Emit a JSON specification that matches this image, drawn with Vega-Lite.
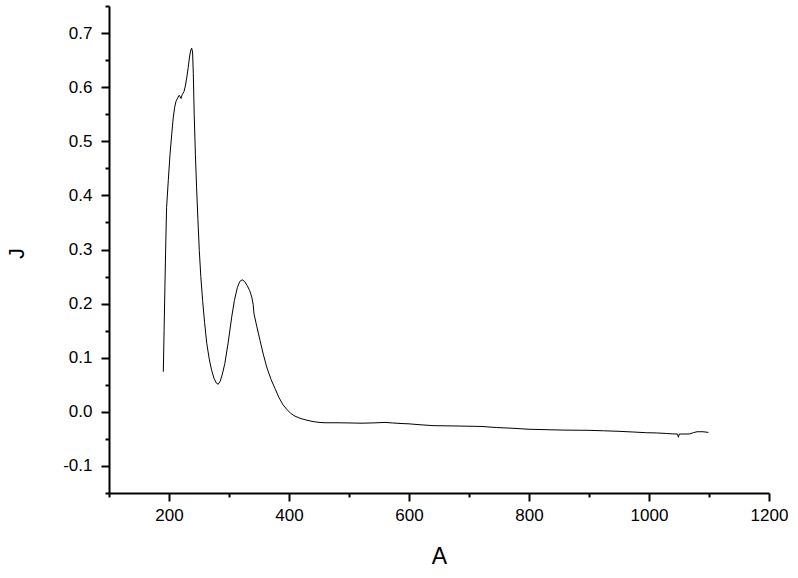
{
  "$schema": "https://vega.github.io/schema/vega-lite/v6.json",
  "autosize": "none",
  "width": 660,
  "height": 487,
  "padding": {"left": 109, "top": 6, "right": 29, "bottom": 85},
  "background": "white",
  "config": {
    "view": {"stroke": null},
    "font": "Liberation Sans"
  },
  "data": {
    "values": [
      {"A": 190.5, "J": 0.074},
      {"A": 191.8, "J": 0.15},
      {"A": 193.3, "J": 0.236},
      {"A": 194.6, "J": 0.31},
      {"A": 196, "J": 0.378},
      {"A": 198.8, "J": 0.427},
      {"A": 201.7, "J": 0.476},
      {"A": 204.5, "J": 0.512},
      {"A": 207, "J": 0.543},
      {"A": 209.5, "J": 0.563},
      {"A": 211.7, "J": 0.574},
      {"A": 214.5, "J": 0.58},
      {"A": 217, "J": 0.585},
      {"A": 218.7, "J": 0.582},
      {"A": 220, "J": 0.579},
      {"A": 222, "J": 0.586},
      {"A": 225, "J": 0.592},
      {"A": 227.2, "J": 0.602},
      {"A": 229.5, "J": 0.617},
      {"A": 232, "J": 0.636},
      {"A": 234, "J": 0.654},
      {"A": 236, "J": 0.667},
      {"A": 237.8, "J": 0.672},
      {"A": 239.3, "J": 0.665},
      {"A": 240.5, "J": 0.625},
      {"A": 242, "J": 0.55},
      {"A": 244, "J": 0.475},
      {"A": 246, "J": 0.414},
      {"A": 248.2, "J": 0.355},
      {"A": 250.5, "J": 0.298},
      {"A": 253, "J": 0.25},
      {"A": 256, "J": 0.206},
      {"A": 259.3, "J": 0.165},
      {"A": 263, "J": 0.126},
      {"A": 267, "J": 0.098},
      {"A": 271, "J": 0.077},
      {"A": 275, "J": 0.062},
      {"A": 279, "J": 0.053},
      {"A": 282, "J": 0.051},
      {"A": 285.5, "J": 0.057},
      {"A": 289, "J": 0.07},
      {"A": 293, "J": 0.089},
      {"A": 298.5, "J": 0.127},
      {"A": 304.5, "J": 0.175},
      {"A": 309, "J": 0.206},
      {"A": 314, "J": 0.23},
      {"A": 318, "J": 0.241},
      {"A": 322, "J": 0.244},
      {"A": 326, "J": 0.241},
      {"A": 330.5, "J": 0.233},
      {"A": 334.5, "J": 0.224},
      {"A": 338, "J": 0.212},
      {"A": 340.2, "J": 0.199},
      {"A": 341.7, "J": 0.181},
      {"A": 346.5, "J": 0.157},
      {"A": 351.7, "J": 0.132},
      {"A": 357, "J": 0.107},
      {"A": 362.8, "J": 0.083},
      {"A": 370, "J": 0.06},
      {"A": 376.7, "J": 0.043},
      {"A": 383, "J": 0.027},
      {"A": 390, "J": 0.013},
      {"A": 396, "J": 0.005},
      {"A": 403, "J": -0.003},
      {"A": 410, "J": -0.008},
      {"A": 420, "J": -0.0125},
      {"A": 430, "J": -0.0155},
      {"A": 440, "J": -0.018},
      {"A": 450, "J": -0.0195},
      {"A": 460, "J": -0.0202},
      {"A": 480, "J": -0.0202},
      {"A": 500, "J": -0.0205},
      {"A": 520, "J": -0.021},
      {"A": 540, "J": -0.0205},
      {"A": 560, "J": -0.0195},
      {"A": 572, "J": -0.0205},
      {"A": 585, "J": -0.0215},
      {"A": 600, "J": -0.0222},
      {"A": 620, "J": -0.024},
      {"A": 640, "J": -0.0255},
      {"A": 680, "J": -0.0262},
      {"A": 720, "J": -0.027},
      {"A": 746, "J": -0.029},
      {"A": 770, "J": -0.0302},
      {"A": 800, "J": -0.0322},
      {"A": 830, "J": -0.033},
      {"A": 860, "J": -0.0338},
      {"A": 900, "J": -0.0342},
      {"A": 924, "J": -0.035},
      {"A": 950, "J": -0.036},
      {"A": 972, "J": -0.0372},
      {"A": 996, "J": -0.0386},
      {"A": 1012, "J": -0.039},
      {"A": 1029, "J": -0.04},
      {"A": 1040, "J": -0.0408},
      {"A": 1047.5, "J": -0.041},
      {"A": 1049, "J": -0.047},
      {"A": 1050.5, "J": -0.041},
      {"A": 1060, "J": -0.041},
      {"A": 1068, "J": -0.0408},
      {"A": 1074, "J": -0.0385},
      {"A": 1080, "J": -0.0368},
      {"A": 1090, "J": -0.0368},
      {"A": 1099, "J": -0.038}
    ]
  },
  "mark": {"type": "line", "color": "black", "strokeWidth": 1, "interpolate": "linear"},
  "encoding": {
    "x": {
      "field": "A",
      "type": "quantitative",
      "scale": {"domain": [100, 1200], "nice": false, "zero": false},
      "axis": {
        "title": "A",
        "values": [100, 200, 300, 400, 500, 600, 700, 800, 900, 1000, 1100, 1200],
        "labelExpr": "datum.value % 200 === 0 ? format(datum.value, 'd') : ''",
        "tickSize": {"expr": "datum.value % 200 === 0 ? 8 : 4"},
        "grid": false,
        "domainColor": "black",
        "domainWidth": 2,
        "tickColor": "black",
        "tickWidth": 2,
        "labelColor": "black",
        "labelFont": "Liberation Sans",
        "labelFontSize": 17,
        "labelPadding": 6,
        "labelOverlap": false,
        "labelFlush": false,
        "labelBound": false,
        "titleFont": "Liberation Sans",
        "titleFontSize": 23,
        "titleFontWeight": "normal",
        "titleColor": "black",
        "titleBaseline": "alphabetic",
        "titleAnchor": "middle",
        "titleX": 330,
        "titleY": 70
      }
    },
    "y": {
      "field": "J",
      "type": "quantitative",
      "scale": {"domain": [-0.15, 0.75], "nice": false, "zero": false},
      "axis": {
        "title": "J",
        "values": [-0.15, -0.1, -0.05, 0, 0.05, 0.1, 0.15, 0.2, 0.25, 0.3, 0.35, 0.4, 0.45, 0.5, 0.55, 0.6, 0.65, 0.7, 0.75],
        "labelExpr": "abs(round(datum.value * 10) - datum.value * 10) < 0.001 ? replace(format(datum.value, '.1f'), '\u2212', '-') : ''",
        "tickSize": {"expr": "abs(round(datum.value * 10) - datum.value * 10) < 0.001 ? 8 : 4"},
        "grid": false,
        "domainColor": "black",
        "domainWidth": 2,
        "tickColor": "black",
        "tickWidth": 2,
        "labelColor": "black",
        "labelFont": "Liberation Sans",
        "labelFontSize": 17,
        "labelPadding": 9,
        "labelOverlap": false,
        "labelFlush": false,
        "labelBound": false,
        "titleFont": "Liberation Sans",
        "titleFontSize": 22,
        "titleFontWeight": "normal",
        "titleColor": "black",
        "titleAngle": -90,
        "titleBaseline": "alphabetic",
        "titleAnchor": "middle",
        "titleX": -86,
        "titleY": 247
      }
    }
  }
}
